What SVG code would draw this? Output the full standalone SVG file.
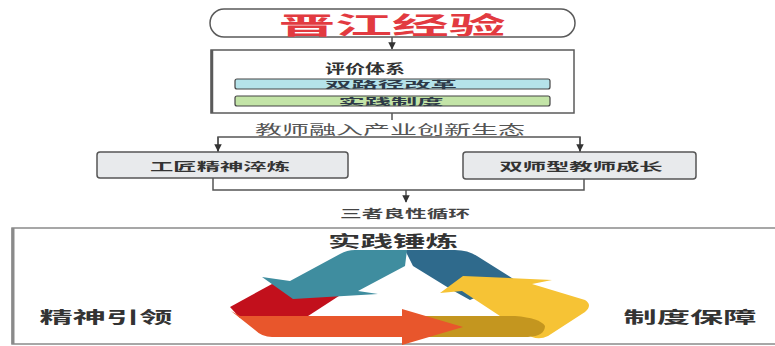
<svg xmlns="http://www.w3.org/2000/svg" width="775" height="346" viewBox="0 0 775 346">
  <defs>
    <style>
      .t { font-family: "Noto Sans CJK SC", "Noto Sans", sans-serif; dominant-baseline: central; text-anchor: middle; }
      .b { font-weight: 700; }
      .frame { fill: #ffffff; stroke: #5a5a5a; stroke-width: 1.5; }
      .step { fill: #e8eaec; stroke: #555555; stroke-width: 1.5; }
      .wire { fill: none; stroke: #555555; stroke-width: 1.5; }
    </style>
    <marker id="arrow" viewBox="0 0 10 10" refX="9" refY="5" markerWidth="5" markerHeight="5" orient="auto">
      <path d="M0,0 L10,5 L0,10 Z" fill="#333333"/>
    </marker>
  </defs>

  <rect width="775" height="346" fill="#ffffff"/>

  <!-- connectors -->
  <g id="connectors">
    <line class="wire" x1="392" y1="37" x2="392" y2="49" marker-end="url(#arrow)"/>
    <line class="wire" x1="392" y1="113" x2="392" y2="120"/>
    <path class="wire" d="M218,152 V137 H580 V152"/>
    <line class="wire" x1="218" y1="137" x2="218" y2="151" marker-end="url(#arrow)"/>
    <line class="wire" x1="580" y1="137" x2="580" y2="151" marker-end="url(#arrow)"/>
    <path class="wire" d="M213,178 V190 H584 V179"/>
    <line class="wire" x1="406" y1="190" x2="406" y2="202" marker-end="url(#arrow)"/>
  </g>

  <!-- title -->
  <g id="title">
    <rect x="210" y="9" width="365" height="28" rx="14" class="frame"/>
    <text class="t b" x="392" y="23" font-size="24" fill="#e23a40" textLength="227" lengthAdjust="spacingAndGlyphs">晋江经验</text>
  </g>

  <!-- evaluation system -->
  <g id="evaluation">
    <rect x="211" y="50" width="363" height="63" class="frame"/>
    <line x1="212" y1="50" x2="212" y2="113" stroke="#5a5a5a" stroke-width="2.5"/>
    <text class="t b" x="365" y="67" font-size="13" fill="#333" textLength="80" lengthAdjust="spacingAndGlyphs">评价体系</text>
    <rect x="235" y="79" width="315" height="10" rx="2" fill="#b5e3ea" stroke="#444" stroke-width="1.2"/>
    <text class="t b" x="391" y="84" font-size="9" fill="#2e3a48" textLength="132" lengthAdjust="spacingAndGlyphs">双路径改革</text>
    <rect x="235" y="96" width="315" height="10" rx="2" fill="#c3e4a7" stroke="#444" stroke-width="1.2"/>
    <text class="t b" x="391" y="101" font-size="9" fill="#2e3a48" textLength="105" lengthAdjust="spacingAndGlyphs">实践制度</text>
  </g>

  <g id="ecosystem">
    <text class="t" x="390" y="128" font-size="13" fill="#555" textLength="270" lengthAdjust="spacingAndGlyphs">教师融入产业创新生态</text>
  </g>

  <g id="craftsman">
    <rect x="97" y="152" width="251" height="26" rx="3" class="step"/>
    <text class="t b" x="220" y="166" font-size="11" fill="#333" textLength="140" lengthAdjust="spacingAndGlyphs">工匠精神淬炼</text>
  </g>

  <g id="dualteacher">
    <rect x="463" y="152" width="233" height="27" rx="3" class="step"/>
    <text class="t b" x="581" y="166" font-size="11" fill="#333" textLength="163" lengthAdjust="spacingAndGlyphs">双师型教师成长</text>
  </g>

  <g id="cycle">
    <text class="t b" x="405" y="213" font-size="11" fill="#444" textLength="130" lengthAdjust="spacingAndGlyphs">三者良性循环</text>
  </g>

  <!-- recycling triangle panel -->
  <g id="panel">
    <path d="M776,228 H12 V344 H776" fill="none" stroke="#8a8a8a" stroke-width="1.5"/>
    <line x1="13" y1="228" x2="13" y2="344" stroke="#8a8a8a" stroke-width="3"/>
    <text class="t b" x="393" y="240" font-size="16" fill="#333" textLength="130" lengthAdjust="spacingAndGlyphs">实践锤炼</text>
    <text class="t b" x="106" y="316" font-size="16" fill="#333" textLength="133" lengthAdjust="spacingAndGlyphs">精神引领</text>
    <text class="t b" x="690" y="316" font-size="16" fill="#333" textLength="133" lengthAdjust="spacingAndGlyphs">制度保障</text>

    <!-- red fold at the left corner -->
    <path d="M230,307 L272,284 L342,294 L305,318 L240,318 Z" fill="#c2101c"/>
    <!-- dark blue fold at the top corner -->
    <path d="M405,250 L455,250 Q468,250 477,256 L515,280 L470,300 L452,290 L413,266 Z" fill="#2f6a8c"/>
    <!-- teal band with head -->
    <path d="M262,277 L293,299 L378,294 L358,291 L405,266 L407,250 L355,250 Q347,250 340,254 L290,281 Z" fill="#3f8d9f"/>
    <!-- yellow band with head -->
    <path d="M440,293 L463,276 L552,280 L532,284 L585,300 Q593,305 585,312 L548,336 Q540,340 532,337 L500,316 L462,291 Z" fill="#f6c335"/>
    <!-- mustard fold at the bottom right -->
    <path d="M425,316 L515,316 Q540,318 545,326 Q545,336 528,337 L425,337 Z" fill="#c4961f"/>
    <!-- orange band with head -->
    <path d="M231,311 L240,316 L402,316 L402,309 L463,327 L402,345 L402,337 L272,337 Q262,337 255,330 Z" fill="#e8562c"/>
  </g>
</svg>
